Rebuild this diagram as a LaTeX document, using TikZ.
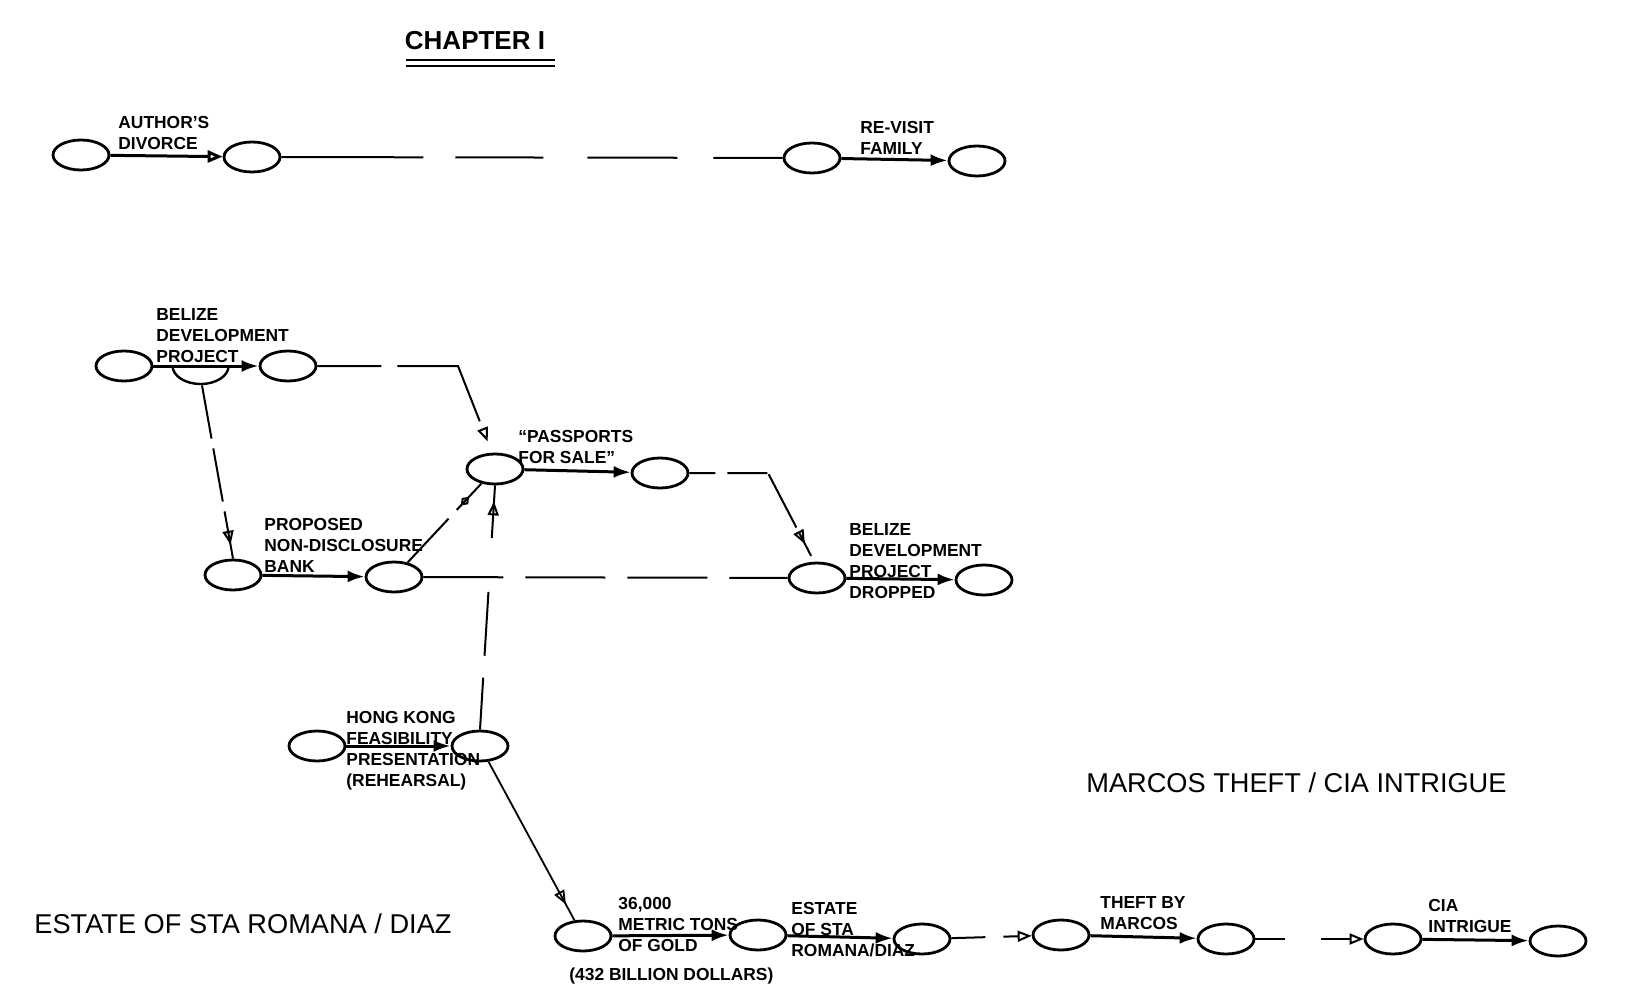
\documentclass[tikz,border=0pt]{standalone}
\usepackage{fontspec}
\setmainfont{Liberation Sans}
\usetikzlibrary{arrows.meta,shapes.geometric,decorations.markings}

\begin{document}
\begin{tikzpicture}[x=0.5pt,y=-0.5pt,
  ev/.style={draw,ellipse,line width=1.4pt,minimum width=28pt,minimum height=15pt,inner sep=0pt},
  act/.style={line width=1.5pt,-{Latex[length=8.5pt,width=6pt]}},
  oarr/.style={-{Triangle[open,length=7pt,width=5.5pt]}},
  dline/.style={line width=1pt,dash pattern=on 40pt off 11pt},
  opentip/.style={postaction={decorate,decoration={markings,mark=at position -#1 with {\arrow{Triangle[open,length=7pt,width=5.5pt]}}}}},
  lbl/.style={anchor=north west,inner sep=0pt,align=left,font=\bfseries\fontsize{8.7}{10.5}\selectfont},
  big/.style={anchor=north west,inner sep=0pt,font=\fontsize{13.6}{15}\selectfont}]
  \useasboundingbox (0,0) rectangle (1625,989);

  % title
  \node[font=\bfseries\fontsize{13}{15}\selectfont] (title) at (475,41) {CHAPTER I};
  \draw[line width=0.9pt] (406,60) -- (555,60);
  \draw[line width=1.2pt] (406,66) -- (555,66);

  % events
  \node[ev] (A1) at (81,155) {};
  \node[ev] (A2) at (252,157) {};
  \node[ev] (A3) at (812,158) {};
  \node[ev] (A4) at (977,161) {};
  \node[ev] (B1) at (124,366) {};
  \node[ev,draw=none,minimum height=18pt] (B0) at (202,366) {};
  \node[ev] (B2) at (288,366) {};
  \node[ev] (P1) at (495,469) {};
  \node[ev] (P2) at (660,473) {};
  \node[ev] (C1) at (233,575) {};
  \node[ev] (C2) at (394,577) {};
  \node[ev] (D1) at (817,578) {};
  \node[ev] (D2) at (984,580) {};
  \node[ev] (H1) at (317,746) {};
  \node[ev] (H2) at (480,746) {};
  \foreach \n/\x/\y in {G1/583/936,G2/758/935,G3/922/939,G4/1061/935,G5/1226/939,G6/1393/939,G7/1558/941}
    \node[ev] (\n) at (\x,\y) {};
  \draw[line width=1.2pt] (B0.west) arc[start angle=180,end angle=0,x radius=28,y radius=18];

  % activities
  \draw[act,-{Triangle[open,length=7.5pt,width=6pt]}] (A1) -- (A2);
  \draw[dline,dash pattern=on 71pt off 16pt on 44pt off 22pt on 45pt off 18pt] (A2) -- (A3);
  \draw[act] (A3) -- (A4);

  \draw[act] (B1) -- (B2);
  \coordinate (bTurn) at (458,366);
  \draw[dline,dash pattern=on 32pt off 8pt on 60pt,opentip=6pt] (B2.east) -- (bTurn) -- (P1.100);
  \draw[dline,dash pattern=on 27pt off 5pt,opentip=7pt] (B0.south) -- (C1.north);
  \draw[act] (P1) -- (P2);
  \coordinate (pTurn) at (768,473);
  \draw[dline,dash pattern=on 13pt off 6pt on 20pt off 1pt on 30pt off 3pt,opentip=10pt] (P2.east) -- (pTurn) -- (D1.100);
  \draw[act] (C1) -- (C2);
  \draw[dline,dash pattern=on 30pt off 6pt,postaction={decorate,decoration={markings,mark=at position -9pt with {\arrow{Diamond[open,length=6pt,width=4.5pt]}}}}] (C2) -- (P1);
  \draw[dline] (C2) -- (D1);
  \draw[act] (D1) -- (D2);

  \draw[act] (H1) -- (H2);
  \draw[dline,dash pattern=on 26pt off 11pt on 32pt off 27pt on 30pt,opentip=8pt] (H2.north) -- (P1.south);
  \draw[line width=0.9pt,opentip=9pt] (H2) -- (G1);

  \draw[act] (G1) -- (G2);
  \draw[act] (G2) -- (G3);
  \draw[dline,oarr,dash pattern=on 17pt off 9pt] (G3) -- (G4);
  \draw[act] (G4) -- (G5);
  \draw[dline,oarr,dash pattern=on 15pt off 18pt] (G5) -- (G6);
  \draw[act] (G6) -- (G7);

  % labels
  \node[lbl] (lDivorce) at (118,116) {AUTHOR'S\\DIVORCE};
  \node[lbl] (lRevisit) at (860,121) {RE-VISIT\\FAMILY};
  \node[lbl] (lBelize) at (156,308) {BELIZE\\DEVELOPMENT\\PROJECT};
  \node[lbl] (lPass) at (518,430) {“PASSPORTS\\FOR SALE”};
  \node[lbl] (lBank) at (264,518) {PROPOSED\\NON-DISCLOSURE\\BANK};
  \node[lbl] (lDrop) at (849,523) {BELIZE\\DEVELOPMENT\\PROJECT\\DROPPED};
  \node[lbl] (lHong) at (346,711) {HONG KONG\\FEASIBILITY\\PRESENTATION\\(REHEARSAL)};
  \node[lbl] (lGold) at (618,897) {36,000\\METRIC TONS\\OF GOLD};
  \node[lbl] (lDollars) at (569,967) {(432 BILLION DOLLARS)};
  \node[lbl] (lEstate) at (791,902) {ESTATE\\OF STA\\ROMANA/DIAZ};
  \node[lbl] (lTheft) at (1100,896) {THEFT BY\\MARCOS};
  \node[lbl] (lCia) at (1428,899) {CIA\\INTRIGUE};
  \node[big] (lMarcos) at (1086,772) {MARCOS THEFT / CIA INTRIGUE};
  \node[big] (lRomana) at (34,913) {ESTATE OF STA ROMANA / DIAZ};
\end{tikzpicture}
\end{document}
